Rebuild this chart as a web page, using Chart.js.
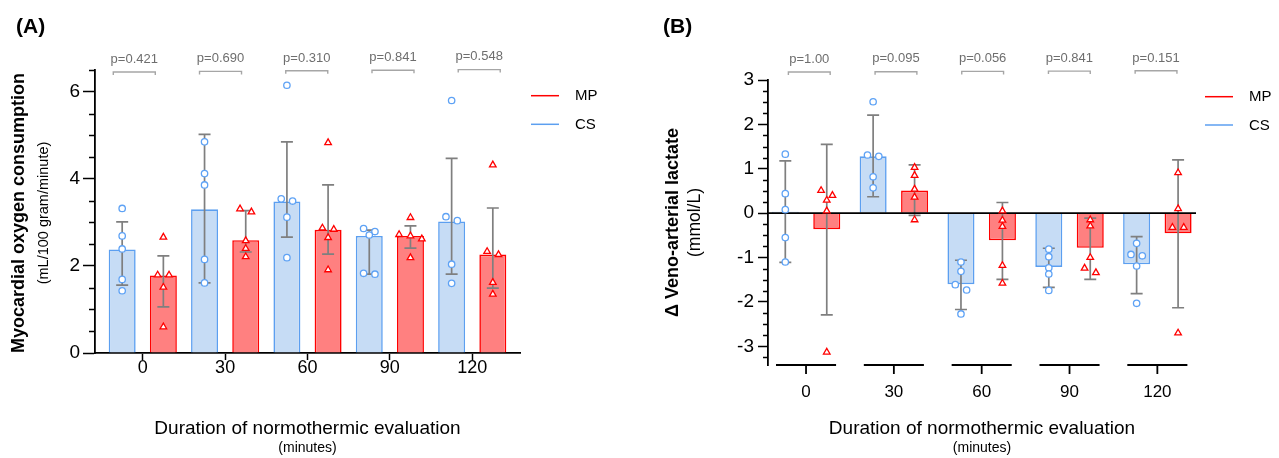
<!DOCTYPE html>
<html>
<head>
<meta charset="utf-8">
<script src="https://cdn.jsdelivr.net/npm/chart.js@4.4.1/dist/chart.umd.min.js"></script>
<style>
  body { margin: 0; background: #fff; }
  #wrap { position: relative; width: 1279px; height: 458px; }
  canvas { position: absolute; top: 0; }
</style>
</head>
<body>
<div id="wrap">
  <canvas id="chartA" width="640" height="458" style="left:0"></canvas>
  <canvas id="chartB" width="639" height="458" style="left:640px"></canvas>
</div>
<script>
// Time points of normothermic evaluation (minutes)
const timeLabels = ['0', '30', '60', '90', '120'];

// (A) Myocardial oxygen consumption, bar = median, whiskers = IQR
const pValuesA = ['p=0.421', 'p=0.690', 'p=0.310', 'p=0.841', 'p=0.548'];
const csO2Bar = [2.38, 3.30, 3.48, 2.69, 3.02];
const csO2Low = [1.56, 1.61, 2.66, 1.81, 1.81];
const csO2High = [3.01, 5.02, 4.85, 2.82, 4.47];
const csO2Points = [
  [3.32, 2.69, 2.39, 1.69, 1.43],
  [4.85, 4.12, 3.86, 2.15, 1.61],
  [6.15, 3.54, 3.49, 3.12, 2.19],
  [2.86, 2.79, 2.71, 1.83, 1.81],
  [5.80, 3.13, 3.04, 2.04, 1.60]
];
const mpO2Bar = [1.78, 2.59, 2.83, 2.69, 2.26];
const mpO2Low = [1.06, 2.32, 2.27, 2.41, 1.49];
const mpO2High = [2.23, 3.27, 3.86, 2.92, 3.33];
const mpO2Points = [
  [2.66, 1.79, 1.79, 1.51, 0.60],
  [3.31, 3.24, 2.58, 2.40, 2.21],
  [4.83, 2.87, 2.84, 2.65, 1.91],
  [3.11, 2.72, 2.69, 2.62, 2.19],
  [4.32, 2.33, 2.26, 1.62, 1.35]
];

// (B) Veno-arterial lactate difference, bar = mean, whiskers = 95% CI
const pValuesB = ['p=1.00', 'p=0.095', 'p=0.056', 'p=0.841', 'p=0.151'];
const csLacBar = [0.03, 1.28, -1.60, -1.21, -1.15];
const csLacLow = [-1.11, 0.37, -2.17, -1.67, -1.81];
const csLacHigh = [1.18, 2.21, -1.06, -0.79, -0.53];
const csLacPoints = [
  [1.33, 0.44, 0.08, -0.55, -1.10],
  [2.51, 1.31, 1.28, 0.82, 0.57],
  [-1.10, -1.31, -1.61, -1.73, -2.27],
  [-0.81, -0.98, -1.23, -1.37, -1.74],
  [-0.68, -0.93, -0.96, -1.19, -2.03]
];
const mpLacBar = [-0.36, 0.51, -0.61, -0.78, -0.45];
const mpLacLow = [-2.29, -0.05, -1.49, -1.49, -2.13];
const mpLacHigh = [1.55, 1.09, 0.24, -0.11, 1.20];
const mpLacPoints = [
  [0.51, 0.40, 0.29, 0.05, -3.13],
  [1.03, 0.85, 0.54, 0.36, -0.15],
  [0.05, -0.16, -0.30, -1.18, -1.58],
  [-0.15, -0.29, -1.00, -1.24, -1.34],
  [0.91, 0.10, -0.32, -0.32, -2.70]
];

const FONT = "'Liberation Sans', Arial, Helvetica, sans-serif";
const CS_FILL = '#c6dcf5';
const CS_LINE = '#5c9ff0';
const MP_FILL = '#ff8080';
const MP_LINE = '#ff0000';
const WHISKER = '#7f7f7f';
const BRACKET = '#a6a6a6';

Chart.defaults.font.family = FONT;
Chart.defaults.color = '#000';

// Put overlapping points side by side in a row, the way prism does it
function swarm(values, center, yTol, xStep) {
  const sorted = [...values].sort((a, b) => b - a);
  const out = [];
  let row = [];
  const flush = () => {
    row.forEach((v, j) => out.push({ x: center + (j - (row.length - 1) / 2) * xStep, y: v }));
    row = [];
  };
  sorted.forEach(v => {
    if (row.length && row[0] - v > yTol) flush();
    row.push(v);
  });
  flush();
  return out;
}

function pointData(groups, side, cp, xStep) {
  return groups.flatMap((vals, i) => swarm(vals, i + side * cp / 4, 0.125, xStep));
}

function drawText(ctx, text, x, y, font, color, align, rotate) {
  ctx.save();
  ctx.translate(x, y);
  if (rotate) ctx.rotate(-Math.PI / 2);
  ctx.font = font;
  ctx.fillStyle = color || '#000';
  ctx.textAlign = align || 'center';
  ctx.textBaseline = rotate ? 'middle' : 'alphabetic';
  ctx.fillText(text, 0, 0);
  ctx.restore();
}

// Error bars, brackets, p-values, titles and legend for one panel
function makeDecor(cfg) {
  return {
    id: 'decor_' + cfg.id,
    afterDatasetDraw(chart, args) {
      if (args.index !== 1) return;
      const ctx = chart.ctx;
      const ys = chart.scales.y;
      const area = chart.chartArea;
      ctx.save();
      ctx.strokeStyle = WHISKER;
      ctx.lineWidth = 1.7;
      [[0, cfg.mpLow, cfg.mpHigh], [1, cfg.csLow, cfg.csHigh]].forEach(([d, low, high]) => {
        chart.getDatasetMeta(d).data.forEach((el, i) => {
          const y1 = ys.getPixelForValue(low[i]);
          const y2 = ys.getPixelForValue(high[i]);
          ctx.beginPath();
          ctx.moveTo(el.x, y1); ctx.lineTo(el.x, y2);
          ctx.moveTo(el.x - 6, y1); ctx.lineTo(el.x + 6, y1);
          ctx.moveTo(el.x - 6, y2); ctx.lineTo(el.x + 6, y2);
          ctx.stroke();
        });
      });
      if (cfg.zeroLine) {
        const y0 = ys.getPixelForValue(0);
        ctx.strokeStyle = '#000';
        ctx.lineWidth = 1.8;
        ctx.beginPath();
        ctx.moveTo(area.left, y0); ctx.lineTo(area.right, y0);
        ctx.stroke();
      }
      ctx.restore();
    },
    afterDraw(chart) {
      const ctx = chart.ctx;
      const xs = chart.scales.x;
      const ys = chart.scales.y;
      const area = chart.chartArea;
      ctx.save();
      ctx.strokeStyle = '#000';
      ctx.lineWidth = 1.5;

      // minor ticks on the value axis
      ctx.beginPath();
      for (let k = Math.ceil(cfg.yMin / cfg.yMinor); k * cfg.yMinor <= cfg.yMax + 1e-9; k++) {
        const v = k * cfg.yMinor;
        const r = v / cfg.yStep;
        if (Math.abs(r - Math.round(r)) < 1e-6) continue;
        const py = Math.round(ys.getPixelForValue(v)) + 0.5;
        ctx.moveTo(area.left - cfg.minorLen, py); ctx.lineTo(area.left, py);
      }
      ctx.stroke();

      // broken category axis: one short segment per time point
      if (cfg.segmentAxis) {
        ctx.lineWidth = 1.8;
        ctx.beginPath();
        timeLabels.forEach((_, i) => {
          const yb = area.bottom;
          ctx.moveTo(xs.getPixelForValue(i - 0.342), yb);
          ctx.lineTo(xs.getPixelForValue(i + 0.342), yb);
          const xc = xs.getPixelForValue(i);
          ctx.moveTo(xc, yb); ctx.lineTo(xc, yb + 9);
        });
        ctx.stroke();
      }

      // comparison brackets with p-values
      ctx.strokeStyle = BRACKET;
      ctx.lineWidth = 1.4;
      cfg.pValues.forEach((p, i) => {
        const c = cfg.bracketX0 + cfg.bracketDx * i;
        const xl = xs.getPixelForValue(c - cfg.bracketHalf);
        const xr = xs.getPixelForValue(c + cfg.bracketHalf);
        const by = cfg.bracketY - cfg.bracketTilt * i;
        ctx.beginPath();
        ctx.moveTo(xl, by + 3); ctx.lineTo(xl, by); ctx.lineTo(xr, by); ctx.lineTo(xr, by + 3);
        ctx.stroke();
        drawText(ctx, p, (xl + xr) / 2, by - 9.3, '13px ' + FONT, '#6e6e6e');
      });

      // legend
      [['MP', MP_LINE, cfg.legendY[0]], ['CS', CS_LINE, cfg.legendY[1]]].forEach(([name, col, ly]) => {
        ctx.strokeStyle = col;
        ctx.lineWidth = 1.5;
        ctx.beginPath();
        ctx.moveTo(cfg.legendX, ly); ctx.lineTo(cfg.legendX + 28, ly);
        ctx.stroke();
        ctx.font = '15px ' + FONT;
        ctx.fillStyle = '#000';
        ctx.textAlign = 'left';
        ctx.textBaseline = 'middle';
        ctx.fillText(name, cfg.legendX + 44, ly + 0.5);
      });

      // panel letter and axis titles
      drawText(ctx, cfg.letter, cfg.letterX, 33, 'bold 21px ' + FONT, '#000', 'left');
      drawText(ctx, cfg.yTitle, cfg.yTitleX, cfg.yTitleY, 'bold 18px ' + FONT, '#000', 'center', true);
      drawText(ctx, cfg.yUnit, cfg.yUnitX, cfg.yTitleY, cfg.yUnitSize + 'px ' + FONT, '#000', 'center', true);
      const xc = (area.left + area.right) / 2;
      drawText(ctx, 'Duration of normothermic evaluation', xc, 433.5, '19px ' + FONT, '#000');
      drawText(ctx, '(minutes)', xc, 452, '14px ' + FONT, '#000');
      ctx.restore();
    }
  };
}

function makePanel(cfg) {
  const datasets = [
    {
      type: 'bar', label: 'MP', order: 4,
      data: cfg.mpBar.map((v, i) => ({ x: i, y: v })),
      backgroundColor: MP_FILL, borderColor: MP_LINE, borderWidth: 1.6,
      categoryPercentage: cfg.cp, barPercentage: cfg.bp
    },
    {
      type: 'bar', label: 'CS', order: 3,
      data: cfg.csBar.map((v, i) => ({ x: i, y: v })),
      backgroundColor: CS_FILL, borderColor: CS_LINE, borderWidth: 1.6,
      categoryPercentage: cfg.cp, barPercentage: cfg.bp
    },
    {
      type: 'scatter', label: 'MP points', order: 1,
      data: pointData(cfg.mpPoints, 1, cfg.cp, cfg.xStep),
      pointStyle: 'triangle', pointRadius: 3.8,
      pointBorderColor: MP_LINE, pointBackgroundColor: '#fff', pointBorderWidth: 1.3
    },
    {
      type: 'scatter', label: 'CS points', order: 2,
      data: pointData(cfg.csPoints, -1, cfg.cp, cfg.xStep),
      pointStyle: 'circle', pointRadius: 3.2,
      pointBorderColor: '#5ea2f5', pointBackgroundColor: '#fff', pointBorderWidth: 1.3
    }
  ];

  return new Chart(document.getElementById(cfg.id), {
    type: 'bar',
    data: { datasets },
    options: {
      responsive: false,
      animation: false,
      layout: { padding: cfg.padding },
      plugins: { legend: { display: false }, tooltip: { enabled: false } },
      scales: {
        x: {
          type: 'linear', min: cfg.xMin, max: cfg.xMax, offset: false,
          afterFit: s => { s.height = cfg.xHeight; },
          afterBuildTicks: s => { s.ticks = timeLabels.map((_, i) => ({ value: i })); },
          ticks: {
            callback: v => timeLabels[v], autoSkip: false, maxRotation: 0,
            font: { size: cfg.xFont }, color: '#000', padding: cfg.xPad
          },
          grid: cfg.segmentAxis
            ? { display: false, drawTicks: false, offset: false }
            : { drawOnChartArea: false, offset: false, tickLength: 7, tickColor: '#000', tickWidth: 1.5 },
          border: { display: !cfg.segmentAxis, color: '#000', width: 1.8 }
        },
        y: {
          min: cfg.yMin, max: cfg.yMax,
          afterFit: s => { s.width = cfg.yWidth; },
          afterBuildTicks: s => { s.ticks = cfg.yMajors.map(v => ({ value: v })); },
          ticks: { callback: v => String(v), font: { size: 19 }, color: '#000', padding: cfg.yPad },
          grid: { drawOnChartArea: false, tickLength: cfg.majorLen, tickColor: '#000', tickWidth: 1.5 },
          border: { color: '#000', width: 1.8 }
        }
      }
    },
    plugins: [makeDecor(cfg)]
  });
}

makePanel({
  id: 'chartA', letter: '(A)', letterX: 16,
  csBar: csO2Bar, csLow: csO2Low, csHigh: csO2High, csPoints: csO2Points,
  mpBar: mpO2Bar, mpLow: mpO2Low, mpHigh: mpO2High, mpPoints: mpO2Points,
  pValues: pValuesA,
  yMin: 0, yMax: 6.5, yStep: 2, yMinor: 0.5, yMajors: [0, 2, 4, 6],
  majorLen: 12, minorLen: 6, yPad: 3, yWidth: 95,
  xMin: -0.58, xMax: 4.58, xHeight: 105, xFont: 18, xPad: -3,
  cp: 1.0, bp: 0.655, xStep: 0.138,
  padding: { left: 0, right: 120, top: 70, bottom: 0 },
  bracketX0: -0.103, bracketDx: 1.047, bracketHalf: 0.255, bracketY: 72, bracketTilt: 0.6,
  legendX: 531, legendY: [95.7, 124.3],
  yTitle: 'Myocardial oxygen consumption', yUnit: '(mL/100 gram/minute)', yUnitSize: 14.5,
  yTitleX: 19, yUnitX: 44, yTitleY: 213,
  segmentAxis: false, zeroLine: false
});

makePanel({
  id: 'chartB', letter: '(B)', letterX: 23,
  csBar: csLacBar, csLow: csLacLow, csHigh: csLacHigh, csPoints: csLacPoints,
  mpBar: mpLacBar, mpLow: mpLacLow, mpHigh: mpLacHigh, mpPoints: mpLacPoints,
  pValues: pValuesB,
  yMin: -3.42, yMax: 3, yStep: 1, yMinor: 0.25, yMajors: [-3, -2, -1, 0, 1, 2, 3],
  majorLen: 10, minorLen: 5, yPad: 4, yWidth: 128,
  xMin: -0.433, xMax: 4.44, xHeight: 93, xFont: 17, xPad: 17,
  cp: 0.944, bp: 0.652, xStep: 0.129,
  padding: { left: 0, right: 83, top: 80, bottom: 0 },
  bracketX0: 0.037, bracketDx: 0.987, bracketHalf: 0.238, bracketY: 72, bracketTilt: 0.3,
  legendX: 565, legendY: [96.7, 125],
  yTitle: 'Δ Veno-arterial lactate', yUnit: '(mmol/L)', yUnitSize: 17.5,
  yTitleX: 33, yUnitX: 55.5, yTitleY: 222.5,
  segmentAxis: true, zeroLine: true
});
</script>
</body>
</html>
